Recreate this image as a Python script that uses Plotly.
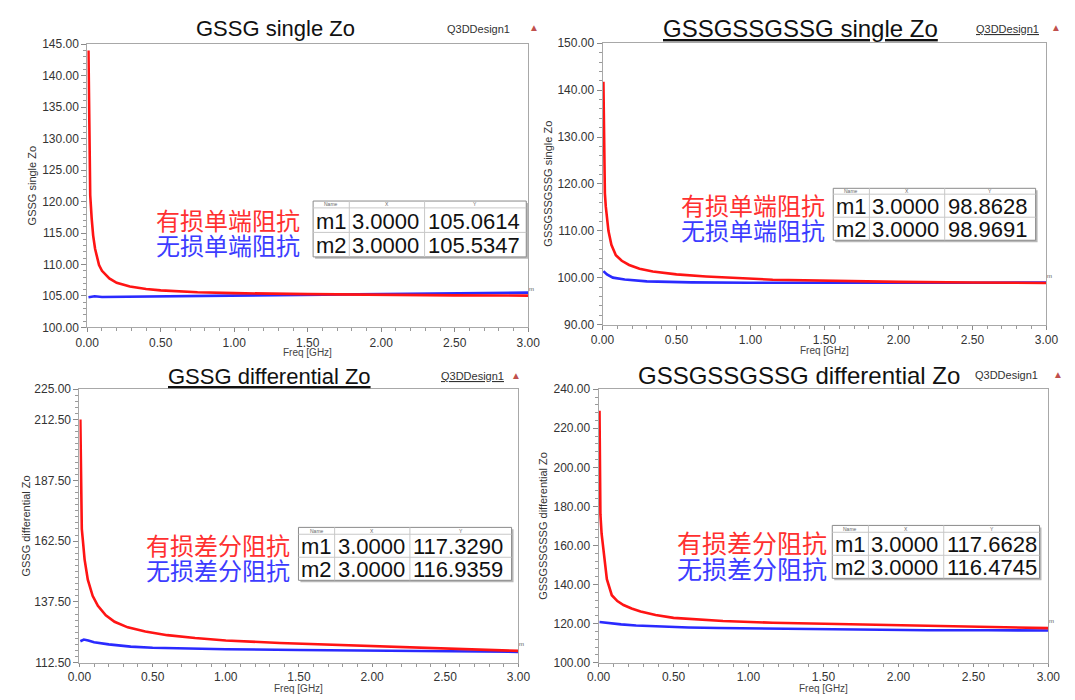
import plotly.graph_objects as go

W, H = 1075, 700

# ---------------- data ----------------
# GSSG single-ended Zo
f_tl_loss = [0.008, 0.012, 0.016, 0.02, 0.03, 0.04, 0.053, 0.08, 0.1, 0.15, 0.2, 0.29, 0.4, 0.5, 0.75, 1.0, 1.5, 2.0, 2.5, 3.0]
z_tl_loss = [144.0, 131.0, 124.5, 121.0, 117.3, 114.6, 112.5, 109.9, 109.0, 107.8, 107.1, 106.5, 106.1, 105.9, 105.6, 105.45, 105.3, 105.17, 105.1, 105.0614]
f_tl_ideal = [0.008, 0.05, 0.1, 0.3, 0.5, 1.0, 1.5, 2.0, 2.5, 3.0]
z_tl_ideal = [104.8, 104.95, 104.85, 104.9, 104.95, 105.05, 105.15, 105.28, 105.4, 105.5347]

# GSSGSSGSSG single-ended Zo
f_tr_loss = [0.006, 0.011, 0.016, 0.022, 0.03, 0.04, 0.06, 0.09, 0.13, 0.18, 0.25, 0.34, 0.5, 0.7, 1.15, 1.6, 2.0, 2.5, 3.0]
z_tr_loss = [141.8, 122.2, 118.0, 115.2, 112.5, 110.0, 107.0, 104.8, 103.6, 102.7, 101.9, 101.3, 100.7, 100.25, 99.55, 99.25, 99.1, 98.95, 98.8628]
f_tr_ideal = [0.006, 0.03, 0.07, 0.15, 0.3, 0.6, 1.0, 1.5, 2.0, 2.5, 3.0]
z_tr_ideal = [101.4, 100.7, 100.0, 99.6, 99.2, 99.0, 98.9, 98.85, 98.85, 98.9, 98.9691]

# GSSG differential Zo
f_bl_loss = [0.006, 0.009, 0.011, 0.016, 0.023, 0.035, 0.057, 0.09, 0.126, 0.18, 0.24, 0.33, 0.45, 0.6, 0.79, 1.0, 1.37, 1.7, 2.06, 2.5, 3.0]
z_bl_loss = [212.5, 185.0, 173.2, 167.5, 163.0, 155.0, 146.6, 140.0, 135.9, 132.0, 129.3, 127.0, 125.3, 123.8, 122.6, 121.6, 120.6, 119.9, 119.3, 118.2, 117.3290]
f_bl_ideal = [0.006, 0.03, 0.06, 0.1, 0.2, 0.35, 0.5, 0.75, 1.0, 1.5, 2.0, 2.5, 3.0]
z_bl_ideal = [121.3, 122.0, 121.6, 120.9, 120.0, 119.1, 118.6, 118.2, 118.0, 117.7, 117.5, 117.2, 116.9359]

# GSSGSSGSSG differential Zo
f_br_loss = [0.006, 0.009, 0.012, 0.02, 0.033, 0.045, 0.055, 0.088, 0.125, 0.166, 0.22, 0.28, 0.38, 0.5, 0.65, 0.83, 1.16, 1.5, 1.82, 2.4, 3.0]
z_br_loss = [229.0, 200.0, 176.0, 166.0, 156.0, 147.0, 142.7, 134.5, 131.5, 129.5, 127.7, 126.2, 124.4, 122.9, 122.0, 121.3, 120.4, 119.9, 119.6, 118.6, 117.6628]
f_br_ideal = [0.006, 0.05, 0.15, 0.25, 0.4, 0.6, 0.8, 1.0, 1.5, 2.2, 2.6, 3.0]
z_br_ideal = [120.8, 120.4, 119.6, 119.0, 118.5, 118.0, 117.7, 117.5, 117.0, 116.6, 116.55, 116.4745]

titles = ["GSSG single Zo", "GSSGSSGSSG single Zo", "GSSG differential Zo", "GSSGSSGSSG differential Zo"]
ytitles = titles
y_ranges = [[100, 145], [90, 150], [112.5, 225], [100, 240]]
y_tickvals = [
    [100, 105, 110, 115, 120, 125, 130, 135, 140, 145],
    [90, 100, 110, 120, 130, 140, 150],
    [112.5, 137.5, 162.5, 187.5, 212.5, 225],
    [100, 120, 140, 160, 180, 200, 220, 240],
]
y_minor_step = [1, 2, 2.5, 4]
x_tickvals = [0, 0.5, 1.0, 1.5, 2.0, 2.5, 3.0]
lossy_labels = ["有损单端阻抗", "有损单端阻抗", "有损差分阻抗", "有损差分阻抗"]
ideal_labels = ["无损单端阻抗", "无损单端阻抗", "无损差分阻抗", "无损差分阻抗"]
marker_freq = ["3.0000", "3.0000", "3.0000", "3.0000"]
marker_m1 = ["105.0614", "98.8628", "117.3290", "117.6628"]
marker_m2 = ["105.5347", "98.9691", "116.9359", "116.4745"]

series = [
    (f_tl_loss, z_tl_loss, f_tl_ideal, z_tl_ideal),
    (f_tr_loss, z_tr_loss, f_tr_ideal, z_tr_ideal),
    (f_bl_loss, z_bl_loss, f_bl_ideal, z_bl_ideal),
    (f_br_loss, z_br_loss, f_br_ideal, z_br_ideal),
]

# ---------------- layout geometry (pixels) ----------------
panels = [  # plot-area left, right, top, bottom
    (77, 528, 38, 327),
    (604, 1058, 37, 324),
    (69, 518, 390, 669),
    (600, 1060, 390, 669),
]
title_pos = [(270, 22, 22, False), (806, 22, 24, True), (263, 377, 22, True), (805, 376, 24, False)]
design_pos = [(477, 534, 22, False), (1018, 1068, 22, True), (471, 516, 377, True), (1017, 1070, 376, False)]
ytitle_x = [20, 548, 14, 543]
xtitle_y = [353, 351, 695, 695]
x_ticklen = [4, 4, 3, 3]
# marker tables: left, top, column widths, header h, row h
tables = [
    (308, 198, [37, 77, 104], 7, 25),
    (840, 185, [37, 77, 93], 6, 23.5),
    (293, 531, [37, 77, 104], 7, 23.5),
    (839, 529, [37, 77, 98], 7, 23.5),
]
cn_label = [(297, 24), (834, 24), (286, 24), (836, 25)]

RED = "#ff1414"
BLUE = "#2a2aff"
FONT = "Liberation Sans, Arial, sans-serif"
CJK = "Noto Sans CJK SC"


def px(x):
    return x / W


def py(y):
    return 1 - y / H


fig = go.Figure()
annotations = []
shapes = []
layout_axes = {}

for i in range(4):
    n = "" if i == 0 else str(i + 1)
    fl, zl, fi, zi = series[i]
    fig.add_trace(go.Scatter(x=fi, y=zi, mode="lines", line=dict(color=BLUE, width=2.6),
                             xaxis="x" + n, yaxis="y" + n, showlegend=False, hoverinfo="skip"))
    fig.add_trace(go.Scatter(x=fl, y=zl, mode="lines", line=dict(color=RED, width=2.6),
                             xaxis="x" + n, yaxis="y" + n, showlegend=False, hoverinfo="skip"))

    l, r, t, b = panels[i]
    axis_common = dict(showline=True, linecolor="#a8a8a8", linewidth=1, mirror=True,
                       ticks="outside", tickcolor="#8a8a8a", showgrid=False, zeroline=False,
                       tickfont=dict(family=FONT, size=12, color="#333"), tickformat=".2f",
                       tickmode="array")
    layout_axes["xaxis" + n] = dict(axis_common, domain=[px(l), px(r)], range=[0, 3], tickvals=x_tickvals,
                                    anchor="y" + n, ticklen=x_ticklen[i],
                                    minor=dict(ticks="outside", ticklen=3, tickcolor="#9a9a9a",
                                               tickmode="linear", tick0=0, dtick=0.1))
    layout_axes["yaxis" + n] = dict(axis_common, domain=[py(b), py(t)], range=y_ranges[i],
                                    tickvals=y_tickvals[i], anchor="x" + n, ticklen=5,
                                    minor=dict(ticks="outside", ticklen=3, tickcolor="#9a9a9a",
                                               tickmode="linear", tick0=y_ranges[i][0],
                                               dtick=y_minor_step[i]))

    # titles
    tx, ty, ts, und = title_pos[i]
    txt = f"<u>{titles[i]}</u>" if und else titles[i]
    annotations.append(dict(x=px(tx), y=py(ty), xref="paper", yref="paper", text=txt, showarrow=False,
                            font=dict(family=FONT, size=ts, color="#111"), xanchor="center", yanchor="middle"))
    dx, tri_x, dy, dund = design_pos[i]
    dtxt = "<u>Q3DDesign1</u>" if dund else "Q3DDesign1"
    annotations.append(dict(x=px(dx), y=py(dy), xref="paper", yref="paper", text=dtxt, showarrow=False,
                            font=dict(family=FONT, size=11, color="#333"), xanchor="center", yanchor="middle"))
    annotations.append(dict(x=px(tri_x), y=py(dy - 1), xref="paper", yref="paper", text="▲", showarrow=False,
                            font=dict(family=FONT, size=10, color="#c0504d"), xanchor="center", yanchor="middle"))
    # axis titles
    annotations.append(dict(x=px(ytitle_x[i]), y=py((t + b) / 2), xref="paper", yref="paper", text=ytitles[i],
                            textangle=-90, showarrow=False, font=dict(family=FONT, size=11, color="#333"),
                            xanchor="center", yanchor="middle"))
    annotations.append(dict(x=px((l + r) / 2), y=py(xtitle_y[i]), xref="paper", yref="paper", text="Freq [GHz]",
                            showarrow=False, font=dict(family=FONT, size=10, color="#444"),
                            xanchor="center", yanchor="middle"))
    # marker flag at the curve end
    annotations.append(dict(x=3.0, y=float(marker_m1[i]), xref="x" + n, yref="y" + n, text="m",
                            showarrow=False, yshift=7, xshift=3, font=dict(family=FONT, size=6, color="#555")))

    # marker table
    x0, y0, cw, hh, rh = tables[i]
    xs = [x0, x0 + cw[0], x0 + cw[0] + cw[1], x0 + sum(cw)]
    y1 = y0 + hh
    y2 = y1 + rh
    y3 = y2 + rh
    shapes.append(dict(type="rect", xref="paper", yref="paper", x0=px(xs[0] + 2), x1=px(xs[3] + 2),
                       y0=py(y3 + 2), y1=py(y0 + 2), line=dict(width=0), fillcolor="#b8b8b8", layer="above"))
    shapes.append(dict(type="rect", xref="paper", yref="paper", x0=px(xs[0]), x1=px(xs[3]),
                       y0=py(y3), y1=py(y0), line=dict(color="#8a8a8a", width=1), fillcolor="white",
                       layer="above"))
    for xv in xs[1:3]:
        shapes.append(dict(type="line", xref="paper", yref="paper", x0=px(xv), x1=px(xv), y0=py(y3), y1=py(y0),
                           line=dict(color="#c8c8c8", width=1), layer="above"))
    for yv in (y1, y2):
        shapes.append(dict(type="line", xref="paper", yref="paper", x0=px(xs[0]), x1=px(xs[3]), y0=py(yv),
                           y1=py(yv), line=dict(color="#c8c8c8", width=1), layer="above"))
    for k, h in enumerate(["Name", "X", "Y"]):
        annotations.append(dict(x=px((xs[k] + xs[k + 1]) / 2), y=py(y0 + hh / 2), xref="paper", yref="paper",
                                text=h, showarrow=False, font=dict(family=FONT, size=5, color="#666"),
                                xanchor="center", yanchor="middle"))
    rows = [("m1", marker_freq[i], marker_m1[i]), ("m2", marker_freq[i], marker_m2[i])]
    for ri, row in enumerate(rows):
        yc = y1 + rh * (ri + 0.5)
        for k, v in enumerate(row):
            annotations.append(dict(x=px(xs[k] + 1), y=py(yc + 1), xref="paper", yref="paper", text=v,
                                    showarrow=False, font=dict(family=FONT, size=22, color="#111"),
                                    xanchor="left", yanchor="middle"))
    # series labels, stacked around the middle of the two marker rows
    cx, cs = cn_label[i]
    ymid = y1 + rh
    gap = (cs + 1.5) / 2
    annotations.append(dict(x=px(cx), y=py(ymid - gap), xref="paper", yref="paper", text=lossy_labels[i],
                            showarrow=False, font=dict(family=CJK, size=cs, color="#ff3030"),
                            xanchor="right", yanchor="middle"))
    annotations.append(dict(x=px(cx), y=py(ymid + gap), xref="paper", yref="paper", text=ideal_labels[i],
                            showarrow=False, font=dict(family=CJK, size=cs, color="#3c3cff"),
                            xanchor="right", yanchor="middle"))

fig.update_layout(width=W, height=H, margin=dict(l=0, r=0, t=0, b=0), paper_bgcolor="white",
                  plot_bgcolor="white", showlegend=False, annotations=annotations, shapes=shapes,
                  **layout_axes)

fig.write_html("out.html")
